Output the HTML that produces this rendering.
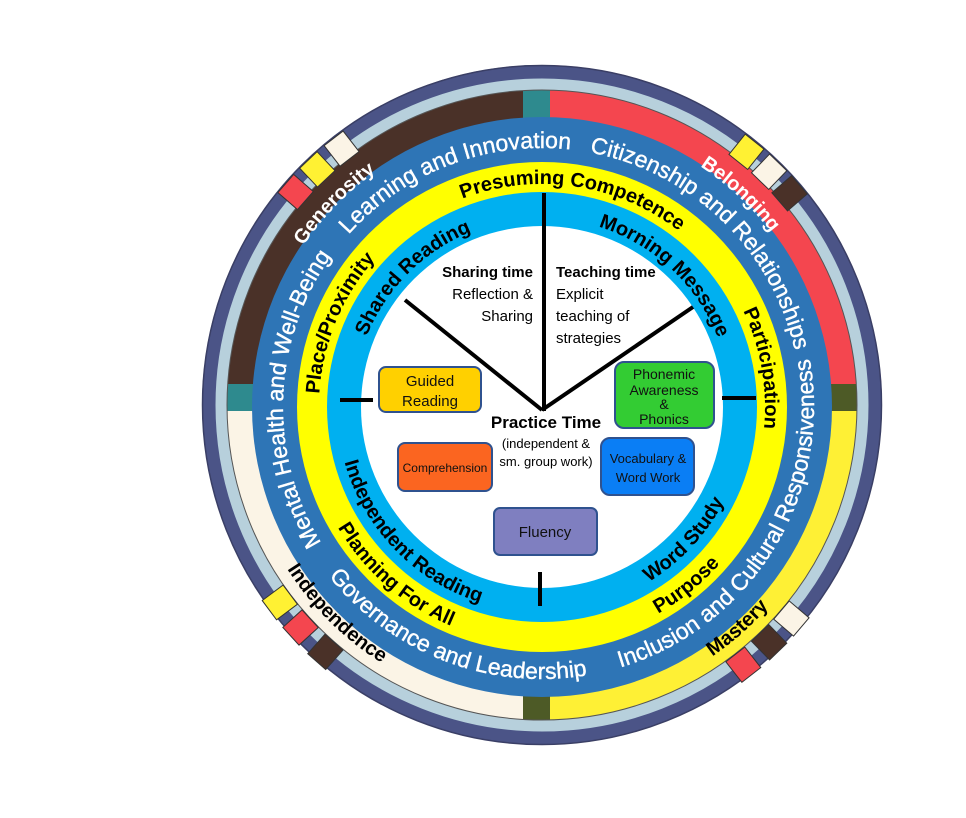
<!DOCTYPE html>
<html><head><meta charset="utf-8"><style>
html,body{margin:0;padding:0;background:#fff;}
svg{display:block;}
.t{font-family:"Liberation Sans",sans-serif;}
</style></head><body>
<svg width="966" height="818" viewBox="0 0 966 818" xmlns="http://www.w3.org/2000/svg">
<defs>
<clipPath id="cc"><circle cx="542" cy="405" r="340"/></clipPath>
<path id="cw288" d="M830,407 A288,288 0 1 1 254,407 A288,288 0 1 1 830,407"/>
<path id="cw259" d="M801,407 A259,259 0 1 1 283,407 A259,259 0 1 1 801,407"/>
<path id="cw223" d="M765,407 A223,223 0 1 1 319,407 A223,223 0 1 1 765,407"/>
<path id="cw189" d="M731,407 A189,189 0 1 1 353,407 A189,189 0 1 1 731,407"/>
<path id="ccw302" d="M844,407 A302,302 0 1 0 240,407 A302,302 0 1 0 844,407"/>
<path id="ccw272" d="M814,407 A272,272 0 1 0 270,407 A272,272 0 1 0 814,407"/>
<path id="ccw237" d="M779,407 A237,237 0 1 0 305,407 A237,237 0 1 0 779,407"/>
<path id="ccw205" d="M747,407 A205,205 0 1 0 337,407 A205,205 0 1 0 747,407"/>
</defs>

<g clip-path="url(#cc)">
<rect x="190" y="50" width="347" height="347" fill="#4a3128"/>
<rect x="537" y="50" width="350" height="347" fill="#f4464f"/>
<rect x="537" y="397" width="350" height="360" fill="#fef035"/>
<rect x="190" y="397" width="347" height="360" fill="#fbf4e6"/>
<rect x="523" y="50" width="27" height="720" fill="#2e8a8e"/>
<rect x="523" y="397" width="27" height="370" fill="#4d5a26"/>
<rect x="190" y="384" width="350" height="27" fill="#2e8a8e"/>
<rect x="537" y="384" width="350" height="27" fill="#4d5a26"/>
</g>
<circle cx="542" cy="405" r="321" fill="none" stroke="#b7d0dc" stroke-width="12"/>
<circle cx="542" cy="405" r="333" fill="none" stroke="#4b5487" stroke-width="13"/>
<circle cx="542" cy="405" r="339.5" fill="none" stroke="#3a3f66" stroke-width="1.5"/>
<circle cx="542" cy="405" r="315" fill="none" stroke="#555" stroke-width="1"/>
<g stroke="#333" stroke-width="1">
<rect x="314" y="-12" width="26" height="24" fill="#f4464f" transform="rotate(-138.9 542 407) translate(542 407)"/>
<rect x="314" y="-12" width="26" height="24" fill="#fff133" transform="rotate(-133.4 542 407) translate(542 407)"/>
<rect x="314" y="-12" width="26" height="24" fill="#fbf4e6" transform="rotate(-127.8 542 407) translate(542 407)"/>
<rect x="314" y="-12" width="26" height="24" fill="#fff133" transform="rotate(-51.3 542 407) translate(542 407)"/>
<rect x="314" y="-12" width="26" height="24" fill="#fbf4e6" transform="rotate(-46 542 407) translate(542 407)"/>
<rect x="314" y="-12" width="26" height="24" fill="#4a3128" transform="rotate(-40.8 542 407) translate(542 407)"/>
<rect x="314" y="-12" width="26" height="24" fill="#fbf4e6" transform="rotate(40.3 542 407) translate(542 407)"/>
<rect x="314" y="-12" width="26" height="24" fill="#4a3128" transform="rotate(46 542 407) translate(542 407)"/>
<rect x="314" y="-12" width="26" height="24" fill="#f4464f" transform="rotate(52 542 407) translate(542 407)"/>
<rect x="314" y="-12" width="26" height="24" fill="#fff133" transform="rotate(143.3 542 407) translate(542 407)"/>
<rect x="314" y="-12" width="26" height="24" fill="#f4464f" transform="rotate(137.6 542 407) translate(542 407)"/>
<rect x="314" y="-12" width="26" height="24" fill="#4a3128" transform="rotate(131.5 542 407) translate(542 407)"/>
</g>
<circle cx="542" cy="407" r="290" fill="#2e75b6"/>
<circle cx="542" cy="407" r="245" fill="#ffff00"/>
<circle cx="542" cy="407" r="215" fill="#00b0f0"/>
<circle cx="542" cy="407" r="181" fill="#ffffff"/>

<g class="t" font-size="20" font-weight="bold" text-anchor="middle">
<text fill="#fff" transform="rotate(44.4 542 407)"><textPath href="#cw288" startOffset="50%">Generosity</textPath></text>
<text fill="#fff" transform="rotate(133 542 407)"><textPath href="#cw288" startOffset="50%">Belonging</textPath></text>
<text fill="#000" transform="rotate(-131.5 542 407)"><textPath href="#ccw302" startOffset="50%">Mastery</textPath></text>
<text fill="#000" transform="rotate(-45.2 542 407)"><textPath href="#ccw302" startOffset="50%">Independence</textPath></text>
</g>
<g class="t" font-size="23" fill="#fff" stroke="#fff" stroke-width="0.4" text-anchor="middle">
<text transform="rotate(69 542 407)"><textPath href="#cw259" startOffset="50%">Learning and Innovation</textPath></text>
<text transform="rotate(134 542 407)"><textPath href="#cw259" startOffset="50%">Citizenship and Relationships</textPath></text>
<text transform="rotate(2 542 407)"><textPath href="#cw259" startOffset="50%">Mental Health and Well-Being</textPath></text>
<text transform="rotate(-148.5 542 407)"><textPath href="#ccw272" startOffset="50%">Inclusion and Cultural Responsiveness</textPath></text>
<text transform="rotate(-69 542 407)"><textPath href="#ccw272" startOffset="50%">Governance and Leadership</textPath></text>
</g>
<g class="t" font-size="20" font-weight="bold" fill="#000" text-anchor="middle">
<text transform="rotate(98.5 542 407)"><textPath href="#cw223" startOffset="50%">Presuming Competence</textPath></text>
<text transform="rotate(170 542 407)"><textPath href="#cw223" startOffset="50%">Participation</textPath></text>
<text transform="rotate(22.5 542 407)"><textPath href="#cw223" startOffset="50%">Place/Proximity</textPath></text>
<text transform="rotate(-129 542 407)"><textPath href="#ccw237" startOffset="50%">Purpose</textPath></text>
<text transform="rotate(-49 542 407)"><textPath href="#ccw237" startOffset="50%">Planning For All</textPath></text>
</g>
<g class="t" font-size="20" font-weight="bold" fill="#000" text-anchor="middle">
<text transform="rotate(45 542 407)"><textPath href="#cw189" startOffset="50%">Shared Reading</textPath></text>
<text transform="rotate(133 542 407)"><textPath href="#cw189" startOffset="50%">Morning Message</textPath></text>
<text transform="rotate(-44 542 407)"><textPath href="#ccw205" startOffset="50%">Independent Reading</textPath></text>
<text transform="rotate(-137 542 407)"><textPath href="#ccw205" startOffset="50%">Word Study</textPath></text>
</g>

<g stroke="#000" stroke-width="4" stroke-linecap="butt">
<line x1="544" y1="193" x2="544" y2="411"/>
<line x1="542" y1="410" x2="405" y2="300"/>
<line x1="542" y1="410" x2="693" y2="307"/>
<line x1="340" y1="400" x2="373" y2="400"/>
<line x1="722" y1="398" x2="756" y2="398"/>
<line x1="540" y1="572" x2="540" y2="606"/>
</g>

<g class="t" fill="#000">
<text x="533" y="277" font-size="15" font-weight="bold" text-anchor="end">Sharing time</text>
<text x="533" y="299" font-size="15" text-anchor="end">Reflection &amp;</text>
<text x="533" y="321" font-size="15" text-anchor="end">Sharing</text>
<text x="556" y="277" font-size="15" font-weight="bold">Teaching time</text>
<text x="556" y="299" font-size="15">Explicit</text>
<text x="556" y="321" font-size="15">teaching of</text>
<text x="556" y="343" font-size="15">strategies</text>
<text x="546" y="428" font-size="17" font-weight="bold" text-anchor="middle">Practice Time</text>
<text x="546" y="448" font-size="13" text-anchor="middle">(independent &amp;</text>
<text x="546" y="466" font-size="13" text-anchor="middle">sm. group work)</text>
</g>

<g stroke="#2f528f" stroke-width="2">
<rect x="379" y="367" width="102" height="45" rx="7" fill="#ffd000"/>
<rect x="398" y="443" width="94" height="48" rx="7" fill="#fb6520"/>
<rect x="615" y="362" width="99" height="66" rx="9" fill="#33cc33"/>
<rect x="601" y="438" width="93" height="57" rx="9" fill="#0a7ef5"/>
<rect x="494" y="508" width="103" height="47" rx="6" fill="#7f7fc0"/>
</g>
<g class="t" fill="#111" text-anchor="middle">
<text x="430" y="386" font-size="15">Guided</text>
<text x="430" y="406" font-size="15">Reading</text>
<text x="445" y="472" font-size="12">Comprehension</text>
<text x="664" y="379" font-size="14">Phonemic</text>
<text x="664" y="395" font-size="14">Awareness</text>
<text x="664" y="409" font-size="14">&amp;</text>
<text x="664" y="424" font-size="14">Phonics</text>
<text x="648" y="463" font-size="13">Vocabulary &amp;</text>
<text x="648" y="482" font-size="13">Word Work</text>
<text x="545" y="537" font-size="15">Fluency</text>
</g>
</svg>
</body></html>
